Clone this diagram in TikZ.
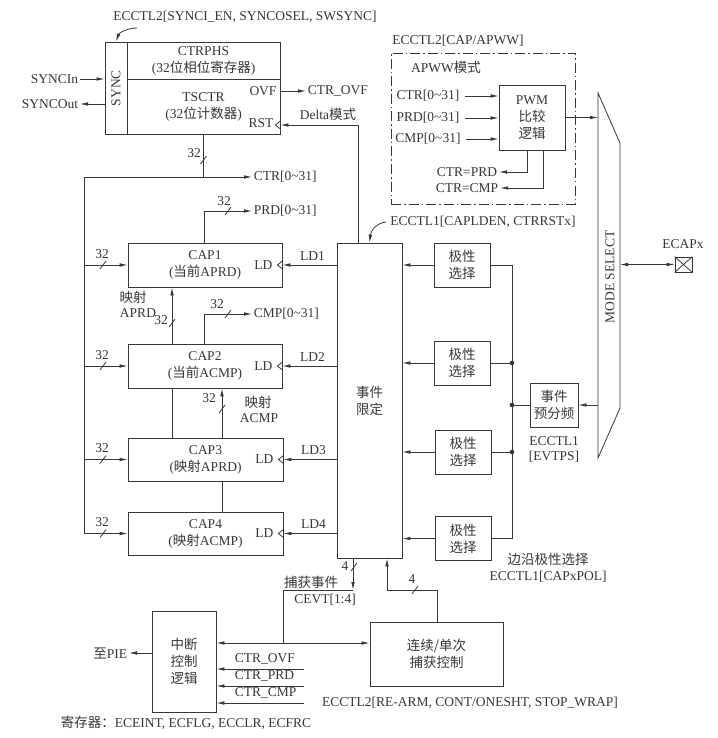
\documentclass[tikz,border=0pt]{standalone}
\usepackage{fontspec}
\setmainfont{Liberation Serif}
\newfontfamily\cjk{Noto Sans CJK SC}
\newcommand\zh[1]{{\cjk #1}}
\usetikzlibrary{arrows.meta,calc}
\definecolor{ink}{RGB}{55,55,55}
\newcommand\busslash[1]{\draw ($(#1)+(-3,4)$) -- ($(#1)+(3,-4)$);}
\newcommand\clk[1]{\draw ($(#1)+(0,-4)$) -- ($(#1)+(-5,0)$) -- ($(#1)+(0,4)$);}
\begin{document}
\begin{tikzpicture}[x=1pt,y=-1pt, color=ink, line width=0.8pt,
  every node/.style={font=\fontsize{13.5}{17}\selectfont, text=ink, inner sep=1.5pt},
  >={Latex[length=8pt,width=3.6pt]},
  box/.style={draw=ink, line width=0.8pt, rectangle, align=center, inner sep=0pt},
  lbl/.style={inner sep=1.5pt},
  dashdot/.style={draw=ink, line width=0.8pt, dash pattern=on 10pt off 3pt on 1.5pt off 3pt}
]
\useasboundingbox (0,0) rectangle (717,738);

% ---------------- SYNC / counter block
\node[lbl] (synchdr) at (245,17) {ECCTL2[SYNCI\_EN, SYNCOSEL, SWSYNC]};
\node[box, minimum width=22, minimum height=92] (syncbar) at (116,88) {};
\node[rotate=90] (synctxt) at (syncbar.center) {SYNC};
\node[box, minimum width=153, minimum height=37] (ctrphs) at (203.5,60.5) {CTRPHS\\(32\zh{位相位寄存器})};
\node[box, minimum width=153, minimum height=55] (tsctr) at (203.5,106.5) {TSCTR\\(32\zh{位计数器})};
\coordinate (sa) at (137,28);
\draw[->] (sa) .. controls (127,28) and (119,33) .. (syncbar.north);
\node[lbl, anchor=east] (syncin) at (80,79) {SYNCIn};
\node[lbl, anchor=east] (syncout) at (80,104) {SYNCOut};
\draw[->] (syncin.east) -- (syncbar.west |- syncin.east);
\draw[->] (syncbar.west |- syncout.east) -- (syncout.east);
\node (ovf) at (263,91) {OVF};
\node (rst) at (261,123) {RST};
\node[lbl, anchor=west] (ctrovf) at (306,91) {CTR\_OVF};
\draw[->] (tsctr.east |- ctrovf.west) -- (ctrovf.west);
\node (delta) at (328,114) {Delta\zh{模式}};
\coordinate (rstc) at (358,125);
\clk{tsctr.east |- rstc}
\draw[->] (rstc) -- (tsctr.east |- rstc);

% ---------------- CTR bus
\coordinate (ctrsplit) at (203.5,177);
\coordinate (busx) at (84,177);
\node[lbl, anchor=west] (ctrlbl) at (252,177) {CTR[0\textasciitilde31]};
\draw (tsctr.south) -- (ctrsplit);
\draw[->] (ctrsplit) -- (ctrlbl.west);
\busslash{203.5,160}
\node (n32a) at (194,153) {32};

% ---------------- CAP registers
\node[box, minimum width=154, minimum height=44] (cap1) at (205,265) {CAP1\\(\zh{当前}APRD)};
\node[box, minimum width=154, minimum height=44] (cap2) at (205,366) {CAP2\\(\zh{当前}ACMP)};
\node[box, minimum width=155, minimum height=43] (cap3) at (205.5,459.5) {CAP3\\(\zh{映射}APRD)};
\node[box, minimum width=155, minimum height=43] (cap4) at (205.5,533.5) {CAP4\\(\zh{映射}ACMP)};
\draw (ctrsplit) -- (busx) -- (busx |- cap4.west);
\foreach \c/\ld in {cap1/LD1,cap2/LD2,cap3/LD3,cap4/LD4}{
  \draw[->] (busx |- \c.west) -- (\c.west);
  \busslash{$(busx |- \c.west)+(19,0)$}
  \node at ($(busx |- \c.west)+(18,-11)$) {32};
  \clk{\c.east}
  \node at ($(\c.east)+(-19,0)$) {LD};
  \node at ($(\c.east)+(30,-9)$) {\ld};
}
% PRD / CMP outputs
\coordinate (prdc) at (204,211);
\node[lbl, anchor=west] (prdlbl) at (252,211) {PRD[0\textasciitilde31]};
\draw[->] (cap1.north -| prdc) -- (prdc) -- (prdlbl.west);
\busslash{228,211}
\node at (224,201) {32};
\coordinate (cmpc) at (204,314);
\node[lbl, anchor=west] (cmplbl) at (252,314) {CMP[0\textasciitilde31]};
\draw[->] (cap2.north -| cmpc) -- (cmpc) -- (cmplbl.west);
\busslash{228,314}
\node at (217,304) {32};
% shadow links
\coordinate (xa) at (172,0);
\coordinate (xb) at (222,0);
\draw[->] (cap2.north -| xa) -- (cap1.south -| xa);
\busslash{172,323}
\node at (161,320) {32};
\node (m1) at (133,297) {\zh{映射}};
\node (m1b) at (138,313) {APRD};
\draw (cap2.south -| xa) -- (cap3.north -| xa);
\draw[->] (cap3.north -| xb) -- (cap2.south -| xb);
\busslash{222,409}
\node at (209,398) {32};
\node (m2) at (258,402) {\zh{映射}};
\node (m2b) at (259,418) {ACMP};
\draw (cap3.south -| xb) -- (cap4.north -| xb);

% ---------------- event qualifier
\node[box, minimum width=65, minimum height=315] (ev) at (369.5,400.5) {\zh{事件}\\\zh{限定}};
\draw (ev.north -| rstc) -- (rstc);
\foreach \c in {cap1,cap2,cap3,cap4}{
  \draw[->] (ev.west |- \c.east) -- (\c.east);
}
\node[lbl] (evhdr) at (483,222) {ECCTL1[CAPLDEN, CTRRSTx]};
\coordinate (ea) at (386,222);
\draw[->] (ea) .. controls (377,223) and (371,230) .. (ev.north);

% ---------------- polarity select
\node[box, minimum width=56, minimum height=44] (pol1) at (462,265) {\zh{极性}\\\zh{选择}};
\node[box, minimum width=56, minimum height=44] (pol2) at (462,363) {\zh{极性}\\\zh{选择}};
\node[box, minimum width=56, minimum height=44] (pol3) at (463,452) {\zh{极性}\\\zh{选择}};
\node[box, minimum width=56, minimum height=44] (pol4) at (463,538.5) {\zh{极性}\\\zh{选择}};
\foreach \p in {pol1,pol2,pol3,pol4}{
  \draw[->] (\p.west) -- (ev.east |- \p.west);
}
\coordinate (rbx) at (512,0);
\draw (pol1.east) -- (pol1.east -| rbx) -- (pol4.east -| rbx) -- (pol4.east);
\draw (pol2.east) -- (pol2.east -| rbx);
\draw (pol3.east) -- (pol3.east -| rbx);
\fill[ink] (pol2.east -| rbx) circle (2.3);
\fill[ink] (pol3.east -| rbx) circle (2.3);
\node[lbl] (polhdr1) at (548,559) {\zh{边沿极性选择}};
\node[lbl] (polhdr2) at (548,577) {ECCTL1[CAPxPOL]};

% ---------------- prescaler
\node[box, minimum width=48, minimum height=44] (pre) at (554,405) {\zh{事件}\\\zh{预分频}};
\draw (pre.west) -- (pre.west -| rbx);
\fill[ink] (pre.west -| rbx) circle (2.3);
\node (prelbl1) at (554,441) {ECCTL1};
\node (prelbl2) at (554,457) {[EVTPS]};

% ---------------- mode select
\coordinate (msA) at (598,93);
\coordinate (msB) at (620,143);
\coordinate (msC) at (620,408);
\coordinate (msD) at (598,458);
\draw (msA) -- (msB) -- (msC) -- (msD) -- cycle;
\node[rotate=90] (mstxt) at (610,277) {MODE SELECT};
\draw[->] (pre.east -| msA) -- (pre.east);
\node[box, minimum width=17, minimum height=15] (ecapx) at (683.5,264.5) {};
\draw (ecapx.north west) -- (ecapx.south east) (ecapx.north east) -- (ecapx.south west);
\node (ecaplbl) at (683,244) {ECAPx};
\draw[<->] (ecapx.west -| msB) -- (ecapx.west);

% ---------------- APWW
\node[dashdot, minimum width=184, minimum height=151, inner sep=0pt] (apww) at (483,128.5) {};
\node[lbl] (apwwhdr) at (458,41) {ECCTL2[CAP/APWW]};
\node (apwwt) at (446,67) {APWW\zh{模式}};
\node[box, minimum width=66, minimum height=65] (pwm) at (532,117.5) {PWM\\\zh{比较}\\\zh{逻辑}};
\node[lbl] (ictr) at (428,96) {CTR[0\textasciitilde31]};
\node[lbl] (iprd) at (428,118) {PRD[0\textasciitilde31]};
\node[lbl] (icmp) at (428,139) {CMP[0\textasciitilde31]};
\foreach \i in {ictr,iprd,icmp}{
  \draw[->] ([xshift=4]\i.east) -- (pwm.west |- \i.east);
}
\draw[->] (pwm.east) -- (pwm.east -| msA);
\node[lbl] (oprd) at (467,172) {CTR=PRD};
\node[lbl] (ocmp) at (467,188) {CTR=CMP};
\coordinate (fbA) at (527,172);
\coordinate (fbB) at (543,188);
\draw[->] (pwm.south -| fbA) -- (fbA) -- (oprd.east);
\draw[->] (pwm.south -| fbB) -- (fbB) -- (ocmp.east);

% ---------------- bottom
\node[box, minimum width=64, minimum height=101] (int) at (184,661.5) {\zh{中断}\\\zh{控制}\\\zh{逻辑}};
\node[box, minimum width=133, minimum height=64] (cont) at (436.5,654) {\zh{连续/单次}\\\zh{捕获控制}};
\coordinate (cevtA) at (353,590);
\coordinate (cevtB) at (283,590);
\coordinate (cevtC) at (283,643);
\draw[->] (ev.south -| cevtA) -- (cevtA);
\draw (cevtA) -- (cevtB) -- (cevtC);
\draw[<->] (int.east |- cevtC) -- (cont.west |- cevtC);
\busslash{354,567}
\node at (345,566) {4};
\node (cevt1) at (311,582) {\zh{捕获事件}};
\node (cevt2) at (325,600) {CEVT[1:4]};
\coordinate (rearmA) at (437,590);
\coordinate (rearmB) at (387,590);
\draw[->] (cont.north -| rearmA) -- (rearmA) -- (rearmB) -- (ev.south -| rearmB);
\busslash{415,590}
\node at (412,579) {4};
\node[lbl, anchor=east] (pie) at (129,653) {\zh{至}PIE};
\draw[->] (int.west |- pie.east) -- (pie.east);
\coordinate (s1) at (304,669);
\coordinate (s2) at (304,686);
\coordinate (s3) at (304,703);
\draw[->] (s1) -- (int.east |- s1);
\draw[->] (s2) -- (int.east |- s2);
\draw[->] (s3) -- (int.east |- s3);
\node[anchor=west] (t1) at (233,659) {CTR\_OVF};
\node[anchor=west] (t2) at (233,676) {CTR\_PRD};
\node[anchor=west] (t3) at (233,693) {CTR\_CMP};
\node[lbl] (rearm) at (470,703) {ECCTL2[RE-ARM, CONT/ONESHT, STOP\_WRAP]};
\node[lbl] (regs) at (186,723) {\zh{寄存器：}ECEINT, ECFLG, ECCLR, ECFRC};
\end{tikzpicture}
\end{document}
